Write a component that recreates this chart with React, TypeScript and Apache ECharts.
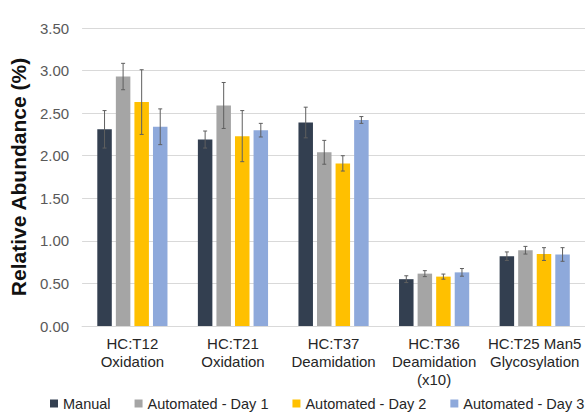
import React, { useEffect, useRef } from "react";
import * as echarts from "echarts";

const categories = [
  "HC:T12\nOxidation",
  "HC:T21\nOxidation",
  "HC:T37\nDeamidation",
  "HC:T36\nDeamidation\n(x10)",
  "HC:T25 Man5\nGlycosylation",
];
const seriesNames = ["Manual", "Automated - Day 1", "Automated - Day 2", "Automated - Day 3"];
const colors = ["#333F50", "#A5A5A5", "#FFC000", "#8EA9DB"];

const manual = [2.31, 2.19, 2.39, 0.55, 0.82];
const manualErr = [0.22, 0.1, 0.18, 0.04, 0.05];
const day1 = [2.93, 2.59, 2.04, 0.615, 0.89];
const day1Err = [0.155, 0.27, 0.14, 0.035, 0.045];
const day2 = [2.63, 2.23, 1.91, 0.58, 0.845];
const day2Err = [0.38, 0.3, 0.09, 0.03, 0.075];
const day3 = [2.34, 2.3, 2.42, 0.63, 0.84];
const day3Err = [0.21, 0.08, 0.04, 0.045, 0.08];

const yTicks = [0, 0.5, 1, 1.5, 2, 2.5, 3, 3.5];

const values = [manual, day1, day2, day3];
const errors = [manualErr, day1Err, day2Err, day3Err];

const BAR_W = 14.5;
const BAR_GAP = 0.28;

export default function App() {
  const ref = useRef<HTMLDivElement>(null);
  useEffect(() => {
    if (!ref.current) return;
    const chart = echarts.init(ref.current, null, { renderer: "svg" });
    const font = "'Liberation Sans', Arial, sans-serif";
    const step = BAR_W * (1 + BAR_GAP);

    const barSeries = values.map((v, i) => ({
      name: seriesNames[i],
      type: "bar",
      data: v,
      barWidth: BAR_W,
      barGap: BAR_GAP * 100 + "%",
      itemStyle: { color: colors[i] },
      z: 2,
    }));

    const errSeries = values.map((v, i) => ({
      name: seriesNames[i] + " err",
      type: "custom",
      data: v.map((val, j) => [j, val - errors[i][j], val + errors[i][j]]),
      z: 5,
      silent: true,
      renderItem: (params: any, api: any) => {
        const cat = api.value(0);
        const lo = api.coord([cat, api.value(1)]);
        const hi = api.coord([cat, api.value(2)]);
        const x = lo[0] + (i - 1.5) * step;
        const cap = 2;
        const style = { stroke: "#5f5f5f", lineWidth: 1 };
        return {
          type: "group",
          children: [
            { type: "line", shape: { x1: x, y1: lo[1], x2: x, y2: hi[1] }, style },
            { type: "line", shape: { x1: x - cap, y1: lo[1], x2: x + cap, y2: lo[1] }, style },
            { type: "line", shape: { x1: x - cap, y1: hi[1], x2: x + cap, y2: hi[1] }, style },
          ],
        };
      },
    }));

    chart.setOption({
      animation: false,
      textStyle: { fontFamily: font },
      grid: { left: 80, right: 0, top: 28, bottom: 87 },
      legend: {
        data: seriesNames,
        left: 50,
        top: 396,
        itemWidth: 8,
        itemHeight: 8,
        itemGap: 24,
        padding: 0,
        icon: "rect",
        textStyle: { fontSize: 14.5, color: "#262626", fontFamily: font },
      },
      xAxis: {
        type: "category",
        data: categories,
        axisLine: { lineStyle: { color: "#D9D9D9", width: 1 } },
        axisTick: { show: false },
        axisLabel: {
          fontSize: 15,
          lineHeight: 18,
          color: "#262626",
          margin: 8,
          interval: 0,
          fontFamily: font,
        },
      },
      yAxis: {
        type: "value",
        min: yTicks[0],
        max: yTicks[yTicks.length - 1],
        interval: 0.5,
        name: "Relative Abundance (%)",
        nameLocation: "middle",
        nameGap: 49,
        nameTextStyle: { fontSize: 21, fontWeight: "bold", color: "#111", fontFamily: font },
        axisLine: { show: false },
        axisTick: { show: false },
        splitLine: { lineStyle: { color: "#D9D9D9", width: 1 } },
        axisLabel: {
          fontSize: 15,
          color: "#595959",
          margin: 13,
          formatter: (val: number) => val.toFixed(2),
          fontFamily: font,
        },
      },
      series: [...barSeries, ...errSeries],
    });
    return () => chart.dispose();
  }, []);
  return <div ref={ref} style={{ width: 585, height: 413, position: "fixed", left: 0, top: 0, background: "#fff" }} />;
}
